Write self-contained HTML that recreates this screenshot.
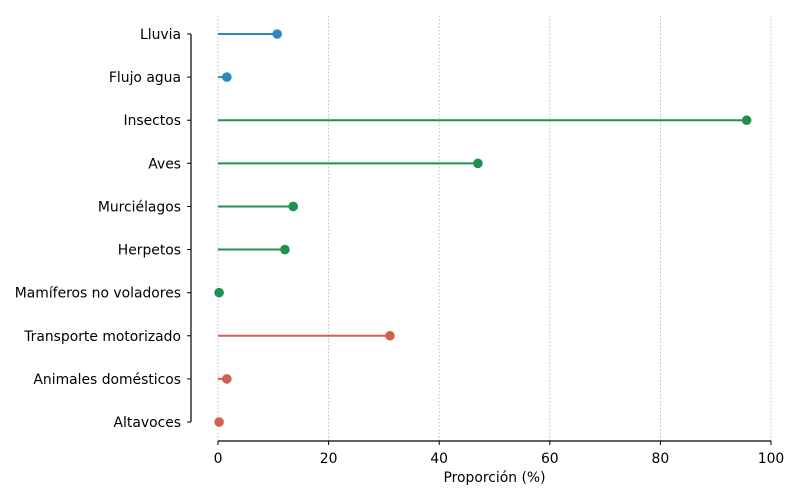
<!DOCTYPE html>
<html><head><meta charset="utf-8"><style>
body{margin:0;background:#fff}
svg{font-family:"DejaVu Sans","Liberation Sans",sans-serif;display:block}
</style></head><body>
<svg id="c" width="800" height="500"></svg>
<script>
const categories=["Lluvia","Flujo agua","Insectos","Aves","Murciélagos","Herpetos","Mamíferos no voladores","Transporte motorizado","Animales domésticos","Altavoces"];
const values=[10.7,1.6,95.6,47.0,13.6,12.1,0.2,31.1,1.6,0.2];
const groups=["geo","geo","bio","bio","bio","bio","bio","antro","antro","antro"];
const xTicks=[0,20,40,60,80,100];
const colors={geo:"#2e86c1",bio:"#1e9150",antro:"#d06050"};
const NS="http://www.w3.org/2000/svg";
const svg=document.getElementById("c");
const x0=218,x1=771,yTop=34,yBot=422;
const xs=v=>x0+(v/100)*(x1-x0);
const ys=i=>yTop+i*(yBot-yTop)/(categories.length-1);
function mk(t,a,p){const e=document.createElementNS(NS,t);for(const k in a)e.setAttribute(k,a[k]);(p||svg).appendChild(e);return e;}
xTicks.forEach(t=>{
 const g=mk("line",{x1:xs(t),x2:xs(t),y1:16,y2:441,stroke:"#b0b0b0","stroke-width":0.8,"stroke-dasharray":"1.5,2"});
 
 
 const tk=mk("line",{x1:xs(t),x2:xs(t),y1:441,y2:445,stroke:"#000","stroke-width":1});
 
 
 const l=mk("text",{x:xs(t),y:463,"text-anchor":"middle","font-size":13.9});
 l.textContent=t;
 
 
});
const xa=mk("line",{x1:x0,x2:x1,y1:441,y2:441,stroke:"#000","stroke-width":1.2});


const ya=mk("line",{x1:191,x2:191,y1:yTop,y2:yBot,stroke:"#000","stroke-width":1.2});


const xt=mk("text",{x:(x0+x1)/2,y:482,"text-anchor":"middle","font-size":13.9});
xt.textContent="Proporción (%)";


categories.forEach((c,i)=>{
 const y=ys(i),col=colors[groups[i]];
 const tk=mk("line",{x1:187,x2:191,y1:y,y2:y,stroke:"#000","stroke-width":1});
 
 
 const l=mk("text",{x:181,y:y+5,"text-anchor":"end","font-size":13.9});
 l.textContent=c;
 
 
 const s=mk("line",{x1:xs(0),x2:xs(values[i]),y1:y,y2:y,stroke:col,"stroke-width":2});
 
 
 const d=mk("circle",{cx:xs(values[i]),cy:y,r:4.8,fill:col});
 
 
});
</script>
</body></html>
